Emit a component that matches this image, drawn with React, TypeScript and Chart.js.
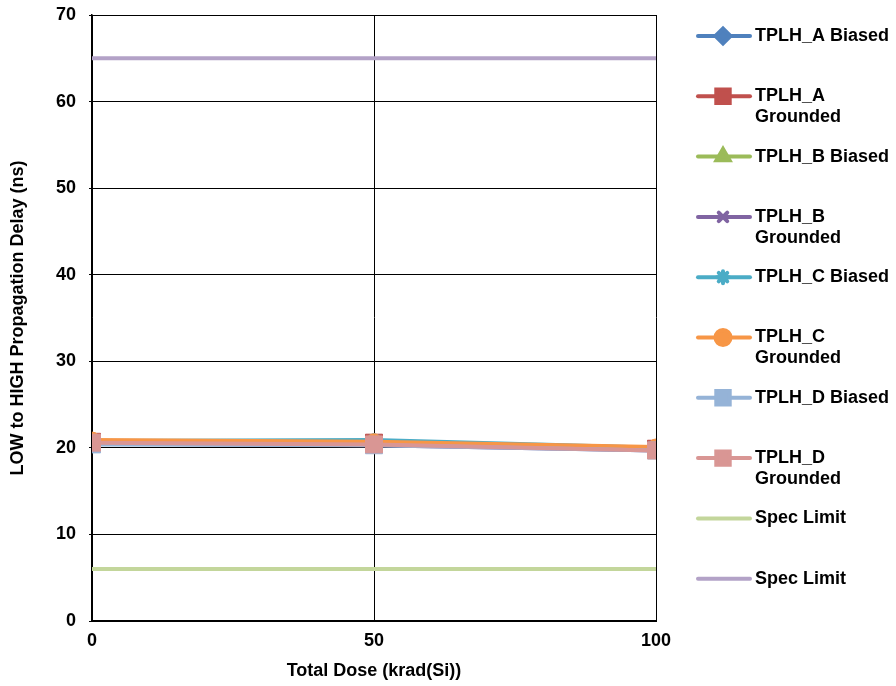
import React, { useEffect, useRef } from "react";
import { Chart, registerables } from "chart.js";
import { drawPoint } from "chart.js/helpers";

Chart.register(...registerables);

const doses = [0, 50, 100];
const yTicks = [0, 10, 20, 30, 40, 50, 60, 70];
const xTicks = [0, 50, 100];

const seriesNames = [
  "TPLH_A Biased",
  "TPLH_A Grounded",
  "TPLH_B Biased",
  "TPLH_B Grounded",
  "TPLH_C Biased",
  "TPLH_C Grounded",
  "TPLH_D Biased",
  "TPLH_D Grounded",
];
const legendLines = [
  ["TPLH_A Biased"],
  ["TPLH_A", "Grounded"],
  ["TPLH_B Biased"],
  ["TPLH_B", "Grounded"],
  ["TPLH_C Biased"],
  ["TPLH_C", "Grounded"],
  ["TPLH_D Biased"],
  ["TPLH_D", "Grounded"],
  ["Spec Limit"],
  ["Spec Limit"],
];

const aBiased = [20.5, 20.4, 19.9];
const aGrounded = [20.7, 20.6, 19.9];
const bBiased = [20.6, 20.5, 19.8];
const bGrounded = [20.5, 20.3, 19.7];
const cBiased = [20.8, 20.9, 20.0];
const cGrounded = [20.9, 20.7, 20.1];
const dBiased = [20.4, 20.3, 19.7];
const dGrounded = [20.6, 20.4, 19.7];
const specLow = [6, 6, 6];
const specHigh = [65, 65, 65];

const seriesValues = [aBiased, aGrounded, bBiased, bGrounded, cBiased, cGrounded, dBiased, dGrounded];
const colors = ["#4F81BD", "#C0504D", "#9BBB59", "#8064A2", "#4BACC6", "#F79646", "#95B3D7", "#D99694"];
const styles = ["rectRot", "rect", "triangle", "crossRot", "star", "circle", "rect", "rect"];
const specColors = ["#C3D69B", "#B3A2C7"];

const FONT = "'Liberation Sans', Arial, sans-serif";

const legendPlugin = {
  id: "customLegend",
  afterDraw(chart: any) {
    const ctx = chart.ctx as CanvasRenderingContext2D;
    ctx.save();
    const all = [
      ...colors.map((c, i) => ({ color: c, style: styles[i], point: true })),
      { color: specColors[0], style: "", point: false },
      { color: specColors[1], style: "", point: false },
    ];
    all.forEach((it, i) => {
      const y = 36 + i * 60.3;
      ctx.strokeStyle = it.color;
      ctx.lineWidth = 4;
      ctx.lineCap = "round";
      ctx.beginPath();
      ctx.moveTo(698, y);
      ctx.lineTo(750, y);
      ctx.stroke();
      if (it.point) {
        ctx.fillStyle = it.color;
        ctx.strokeStyle = it.color;
        const isStroke = it.style === "star" || it.style === "crossRot";
        const r = isStroke ? 6 : it.style === "rect" ? 9.5 : 7.5;
        drawPoint(ctx, { pointStyle: it.style, rotation: 0, radius: r, borderWidth: isStroke ? 3 : 1 } as any, 723, y);
      }
      ctx.fillStyle = "#000";
      ctx.font = `bold 18px ${FONT}`;
      ctx.textAlign = "left";
      ctx.textBaseline = "middle";
      legendLines[i].forEach((ln, k) => ctx.fillText(ln, 755, y + k * 21));
    });
    ctx.restore();
  },
};

export default function App() {
  const ref = useRef<HTMLCanvasElement>(null);
  useEffect(() => {
    if (!ref.current) return;
    const datasets: any[] = [
      ...specColors.map((c, i) => ({
        label: "Spec Limit",
        data: (i === 0 ? specLow : specHigh).map((v, k) => ({ x: doses[k], y: v })),
        borderColor: c,
        backgroundColor: c,
        borderWidth: 4,
        pointRadius: 0,
        order: 20,
      })),
      ...seriesValues.map((vals, i) => {
        const isStroke = styles[i] === "star" || styles[i] === "crossRot";
        const r = isStroke ? 7 : styles[i] === "rect" ? 12 : 8;
        return {
          label: seriesNames[i],
          data: vals.map((v, k) => ({ x: doses[k], y: v })),
          borderColor: colors[i],
          backgroundColor: colors[i],
          borderWidth: 4,
          pointStyle: styles[i],
          pointRadius: r,
          pointBorderWidth: isStroke ? 3 : 1,
          pointBorderColor: colors[i],
          pointBackgroundColor: colors[i],
          order: 10 - i,
        };
      }),
    ];
    const chart = new Chart(ref.current, {
      type: "line",
      data: { datasets },
      plugins: [legendPlugin],
      options: {
        animation: false,
        responsive: false,
        layout: { padding: { top: 15, right: 240, left: 0, bottom: 0 } },
        plugins: { legend: { display: false }, tooltip: { enabled: false } },
        scales: {
          x: {
            type: "linear",
            min: 0,
            max: 100,
            afterBuildTicks: (s: any) => {
              s.ticks = xTicks.map((v) => ({ value: v }));
            },
            afterFit: (s: any) => {
              s.height = 65;
              s.paddingLeft = 0;
              s.paddingRight = 0;
            },
            grid: { color: "#000", lineWidth: 1, drawTicks: false },
            border: { color: "#000", width: 2 },
            ticks: { color: "#000", font: { family: FONT, size: 18, weight: "bold" }, padding: 9, maxRotation: 0 },
            title: {
              display: true,
              text: "Total Dose (krad(Si))",
              color: "#000",
              font: { family: FONT, size: 18, weight: "bold" },
              padding: { top: 4, bottom: 4 },
            },
          },
          y: {
            type: "linear",
            min: 0,
            max: 70,
            afterBuildTicks: (s: any) => {
              s.ticks = yTicks.map((v) => ({ value: v }));
            },
            afterFit: (s: any) => {
              s.width = 92;
              s.paddingTop = 0;
              s.paddingBottom = 0;
            },
            grid: { color: "#000", lineWidth: 1, tickLength: 3 },
            border: { color: "#000", width: 1.5 },
            ticks: { color: "#000", font: { family: FONT, size: 18, weight: "bold" }, padding: 13 },
            title: {
              display: true,
              text: "LOW to HIGH Propagation Delay (ns)",
              color: "#000",
              font: { family: FONT, size: 18, weight: "bold" },
              padding: { top: 7, bottom: 4 },
            },
          },
        },
      },
    });
    return () => chart.destroy();
  }, []);
  return (
    <div style={{ position: "fixed", left: 0, top: 0, width: 896, height: 686, background: "#fff" }}>
      <canvas ref={ref} width={896} height={686} style={{ width: 896, height: 686 }} />
    </div>
  );
}
